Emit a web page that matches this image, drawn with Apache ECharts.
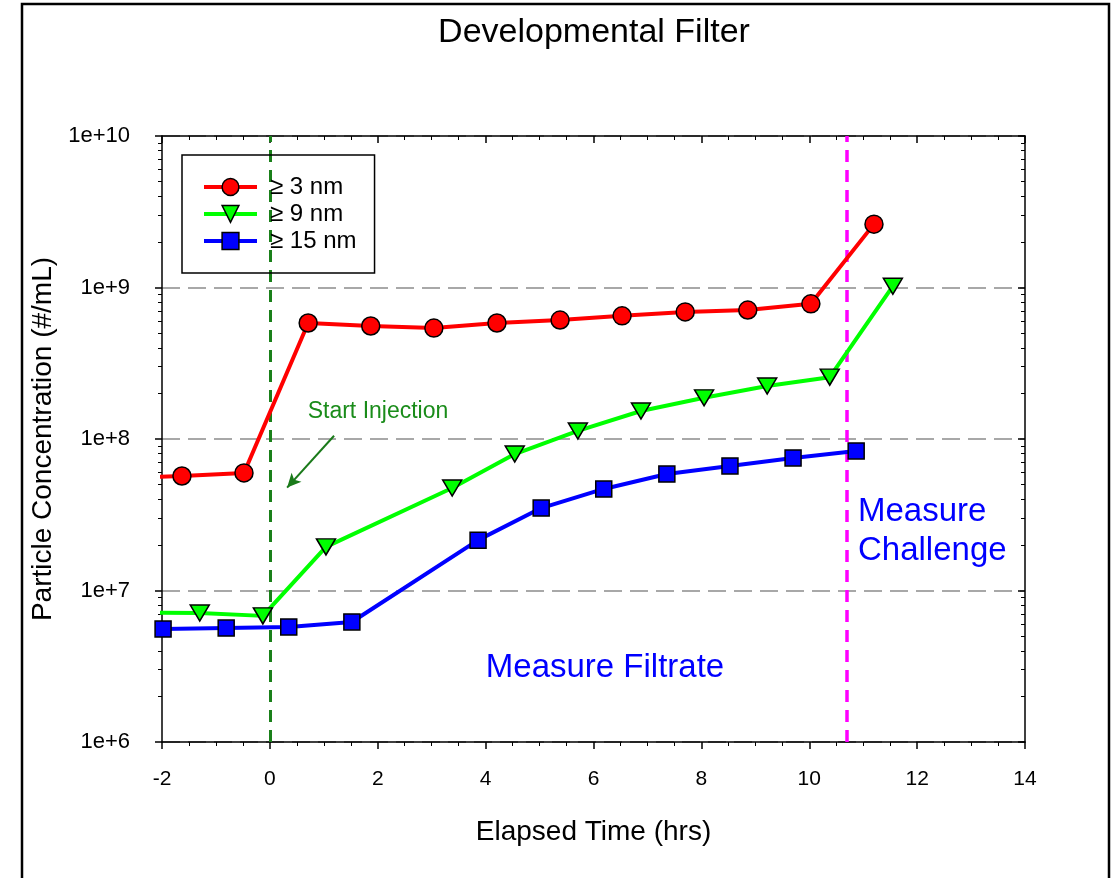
<!DOCTYPE html>
<html>
<head>
<meta charset="utf-8">
<script src="https://cdn.jsdelivr.net/npm/echarts@6/dist/echarts.min.js"></script>
<style>
  html, body { margin: 0; padding: 0; background: #fff; }
  #chart { width: 1119px; height: 878px; }
</style>
</head>
<body>
<div id="chart"></div>
<script>
// Elapsed time (hrs) and particle concentration (#/mL) for each size cut
const timeRed   = [-2.80, -1.63, -0.48, 0.71, 1.87, 3.04, 4.21, 5.38, 6.53, 7.70, 8.86, 10.03, 11.20];
const conc3nm   = [5.5e7, 5.7e7, 5.97e7, 5.83e8, 5.57e8, 5.4e8, 5.83e8, 6.1e8, 6.5e8, 6.9e8, 7.1e8, 7.8e8, 2.62e9];

const timeGreen = [-2.47, -1.30, -0.13, 1.04, 3.38, 4.54, 5.71, 6.88, 8.05, 9.22, 10.38, 11.55];
const conc9nm   = [7.15e6, 7.1e6, 6.8e6, 1.94e7, 4.75e7, 7.96e7, 1.13e8, 1.53e8, 1.87e8, 2.24e8, 2.56e8, 1.02e9];

const timeBlue  = [-1.98, -0.81, 0.35, 1.52, 3.86, 5.03, 6.19, 7.36, 8.53, 9.70, 10.87];
const conc15nm  = [5.57e6, 5.65e6, 5.74e6, 6.2e6, 2.15e7, 3.5e7, 4.68e7, 5.87e7, 6.64e7, 7.5e7, 8.34e7];

const seriesNames = ['\u2265 3 nm', '\u2265 9 nm', '\u2265 15 nm'];

// Event markers on the time axis
const injectionStart = 0;
const challengeStart = 10.70;
// "Start Injection" pointer: [time, concentration] endpoints
const arrowFrom = [1.19, 1.05e8];
const arrowTo   = [0.32, 4.78e7];

const xTicks = { min: -2, max: 14, interval: 2 };
const yRange = { min: 1e6, max: 1e10 };

const pair = (xs, ys) => xs.map((x, i) => [x, ys[i]]);
const FONT = 'Liberation Sans, Arial, sans-serif';

const chart = echarts.init(document.getElementById('chart'), null, { renderer: 'canvas' });

const baseX = {
  type: 'value', min: xTicks.min, max: xTicks.max, interval: xTicks.interval,
  axisLine: { show: true, onZero: false, lineStyle: { color: '#000', width: 1.5 } },
  splitLine: { show: false },
  minorTick: { show: true, splitNumber: 4, length: 4, lineStyle: { color: '#000', width: 1 } },
  axisTick: { show: true, length: 7, lineStyle: { color: '#000', width: 1.5 } }
};
const baseY = {
  type: 'log', logBase: 10, min: yRange.min, max: yRange.max,
  axisLine: { show: true, onZero: false, lineStyle: { color: '#000', width: 1.5 } },
  minorTick: { show: true, splitNumber: 9, length: 4, lineStyle: { color: '#000', width: 1 } },
  axisTick: { show: true, length: 7, lineStyle: { color: '#000', width: 1.5 } }
};

const option = {
  backgroundColor: '#fff',
  animation: false,
  grid: { left: 162, top: 136, right: 94, bottom: 136, containLabel: false },
  legend: {
    orient: 'vertical', left: 182, top: 155,
    padding: [20, 18, 20, 20],
    borderColor: '#000', borderWidth: 1.5,
    itemWidth: 53, itemHeight: 21, itemGap: 3,
    lineStyle: { width: 4 },
    itemStyle: { borderColor: '#000', borderWidth: 1.5 },
    textStyle: { fontFamily: FONT, fontSize: 24, color: '#000', padding: [0, 0, 0, 8] },
    data: seriesNames
  },
  xAxis: [
    Object.assign({}, baseX, {
      position: 'bottom',
      name: 'Elapsed Time (hrs)', nameLocation: 'middle', nameGap: 76,
      nameTextStyle: { fontFamily: FONT, fontSize: 28, color: '#000' },
      axisLabel: { fontFamily: FONT, fontSize: 21, color: '#000', margin: 27 }
    }),
    Object.assign({}, baseX, {
      position: 'top',
      axisTick: { show: true, inside: true, length: 7, lineStyle: { color: '#000', width: 1.5 } },
      minorTick: { show: true, splitNumber: 4, length: 4, lineStyle: { color: '#000', width: 1 } },
      axisLabel: { show: false }
    })
  ],
  yAxis: [
    Object.assign({}, baseY, {
      position: 'left',
      name: 'Particle Concentration (#/mL)', nameLocation: 'middle', nameGap: 105,
      nameTextStyle: { fontFamily: FONT, fontSize: 28, color: '#000' },
      axisLabel: {
        fontFamily: FONT, fontSize: 22, color: '#000', margin: 32,
        formatter: v => '1e+' + Math.round(Math.log10(v))
      },
      splitLine: { show: true, lineStyle: { color: '#8c8c8c', width: 1.5, type: [18, 8] } }
    }),
    Object.assign({}, baseY, {
      position: 'right',
      axisTick: { show: true, inside: true, length: 7, lineStyle: { color: '#000', width: 1.5 } },
      minorTick: { show: true, splitNumber: 9, length: 4, lineStyle: { color: '#000', width: 1 } },
      axisLabel: { show: false },
      splitLine: { show: false }
    })
  ],
  graphic: [
    { type: 'rect', shape: { x: 22, y: 4, width: 1087, height: 900 },
      style: { fill: 'none', stroke: '#000', lineWidth: 2.5 }, z: 100, silent: true },
    { type: 'text', x: 594, y: 33, z: 100,
      style: { text: 'Developmental Filter', fontFamily: FONT, fontSize: 34, fill: '#000',
               textAlign: 'center', textVerticalAlign: 'middle' } },
    { type: 'text', x: 378, y: 412, z: 100,
      style: { text: 'Start Injection', fontFamily: FONT, fontSize: 23, fill: '#1a8c1a',
               textAlign: 'center', textVerticalAlign: 'middle' } },
    { type: 'text', x: 605, y: 668, z: 100,
      style: { text: 'Measure Filtrate', fontFamily: FONT, fontSize: 33, fill: '#0000ff',
               textAlign: 'center', textVerticalAlign: 'middle' } },
    { type: 'text', x: 858, y: 531, z: 100,
      style: { text: 'Measure\nChallenge', fontFamily: FONT, fontSize: 33, lineHeight: 39, fill: '#0000ff',
               textAlign: 'left', textVerticalAlign: 'middle' } }
  ],
  series: [
    {
      name: seriesNames[0], type: 'line', data: pair(timeRed, conc3nm), clip: true,
      symbol: 'circle', symbolSize: 18, z: 5,
      lineStyle: { color: '#ff0000', width: 4 },
      itemStyle: { color: '#ff0000', borderColor: '#000', borderWidth: 1.5 },
      markLine: {
        silent: true, symbol: 'none', label: { show: false }, z: 3,
        data: [
          { xAxis: injectionStart, lineStyle: { color: '#1a801a', width: 3, type: [12, 8] } },
          { xAxis: challengeStart, lineStyle: { color: '#ff00ff', width: 3.5, type: [12, 8] } }
        ]
      }
    },
    {
      name: seriesNames[1], type: 'line', data: pair(timeGreen, conc9nm), clip: true,
      symbol: 'path://M0,0 L10,0 L5,9 Z', symbolSize: [19, 16], z: 5,
      lineStyle: { color: '#00ff00', width: 4 },
      itemStyle: { color: '#00ff00', borderColor: '#000', borderWidth: 1.5 },
      markLine: {
        silent: true, symbol: ['none', 'arrow'], symbolSize: [10, 14], label: { show: false }, z: 3,
        data: [[
          { coord: arrowFrom, lineStyle: { color: '#1a7a1a', width: 2, type: 'solid' } },
          { coord: arrowTo }
        ]]
      }
    },
    {
      name: seriesNames[2], type: 'line', data: pair(timeBlue, conc15nm), clip: true,
      symbol: 'rect', symbolSize: 16, z: 5,
      lineStyle: { color: '#0000ff', width: 4 },
      itemStyle: { color: '#0000ff', borderColor: '#000', borderWidth: 1.5 }
    }
  ]
};

chart.setOption(option);
</script>
</body>
</html>
